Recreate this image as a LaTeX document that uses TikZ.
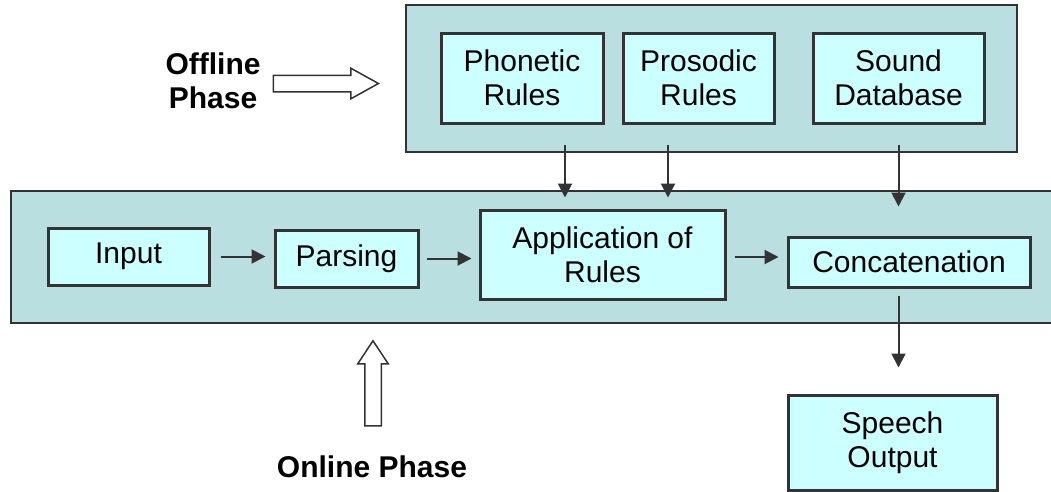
\documentclass[tikz,border=0pt]{standalone}
\usepackage{fontspec}
\setmainfont{Liberation Sans}
\usetikzlibrary{arrows.meta,positioning,shapes.arrows,calc}
\definecolor{phaseFill}{HTML}{BADFE1}
\definecolor{blockFill}{HTML}{CCFFFF}
\definecolor{edgeGray}{HTML}{333333}
\tikzset{
  phase/.style={rectangle, draw=edgeGray, line width=1.6pt, fill=phaseFill, inner sep=0pt},
  block/.style={rectangle, draw=edgeGray, line width=3pt, fill=blockFill, align=center, inner sep=0pt, font=\fontsize{30}{34}\selectfont},
  phasetext/.style={align=center, font=\fontsize{30}{34}\selectfont\bfseries},
  hollow/.style={single arrow, draw=edgeGray, line width=1.5pt, fill=white, inner xsep=0pt, inner ysep=7.5pt, single arrow head extend=7pt},
  arrow/.style={-{Triangle[width=14pt,length=14pt]}, line width=2pt, draw=edgeGray}
}
\begin{document}
\begin{tikzpicture}[x=1pt, y=-1pt]
  \clip (0,0) rectangle (1051,491);
  % offline phase
  \node[phase, minimum width=611pt, minimum height=147pt] (offline) at (711.5,78.5) {};
  \node[block, minimum width=162pt, minimum height=90pt] (phonetic) at (522,78) {Phonetic\\Rules};
  \node[block, minimum width=151pt, minimum height=90pt, right=17pt of phonetic] (prosodic) {Prosodic\\Rules};
  \node[block, minimum width=171pt, minimum height=90pt, right=36pt of prosodic] (sound) {Sound\\Database};

  % online phase
  \node[phase, minimum width=1059pt, minimum height=132pt] (online) at (540.5,257) {};
  \node[block, minimum width=161pt, minimum height=57pt] (input) at (128.5,256.5) {Input};
  \node[block, minimum width=143pt, minimum height=57pt] (parsing) at (346.5,258.5) {Parsing};
  \node[block, minimum width=245pt, minimum height=89pt] (apply) at (602.5,254.5) {Application of\\Rules};
  \node[block, minimum width=242pt, minimum height=50pt] (concat) at (909,262) {Concatenation};
  \node[block, minimum width=209pt, minimum height=95pt] (speech) at (892.5,442.5) {Speech\\Output};

  % phase labels
  \node[phasetext] (offtext) at (213,81) {Offline\\Phase};
  \node[hollow, minimum height=105pt, single arrow tip angle=58] (offarrow) at (318.5,83.5) {};
  \node[hollow, minimum height=85pt, single arrow tip angle=67, rotate=90] (onarrow) at (373,389.5) {};
  \node[phasetext] (ontext) at (372,467) {Online Phase};

  \coordinate (tap1) at (565,0);
  \coordinate (tap2) at (668,0);

  \draw[arrow, shorten <=10pt, shorten >=8pt] (input.east) -- (input.east -| parsing.west);
  \draw[arrow, shorten <=7pt, shorten >=7pt] (parsing.east) -- (parsing.east -| apply.west);
  \draw[arrow, shorten <=8pt, shorten >=8pt] ($(apply.east)+(0,2.5)$) -- ($(apply.east -| concat.west)+(0,2.5)$);
  \draw[arrow, shorten >=11pt] ($(offline.south -| tap1)+(0,-8)$) -- (apply.north -| tap1);
  \draw[arrow, shorten >=11pt] ($(offline.south -| tap2)+(0,-8)$) -- (apply.north -| tap2);
  \draw[arrow, shorten >=29pt] ($(offline.south -| sound)+(0,-8)$) -- (concat.north -| sound);
  \draw[arrow, shorten <=7pt, shorten >=26pt] (concat.south -| sound) -- (speech.north -| sound);
\end{tikzpicture}
\end{document}
